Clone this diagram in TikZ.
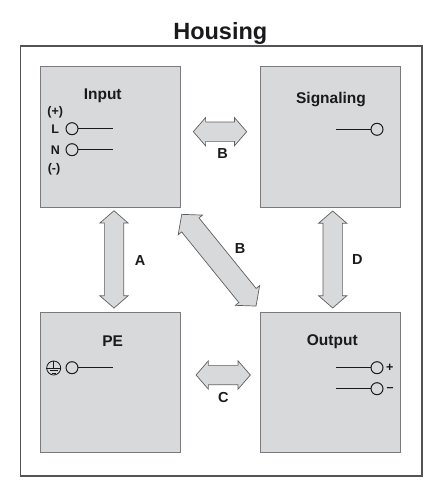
\documentclass[tikz,border=0pt]{standalone}
\usepackage{fontspec}
\setmainfont{Liberation Sans}
\usepackage{xcolor}
\usetikzlibrary{shapes.arrows}
\definecolor{boxfill}{RGB}{216,217,219}
\definecolor{boxline}{RGB}{122,122,124}
\definecolor{ink}{RGB}{26,26,28}

\tikzset{
  unitbox/.style={draw=boxline, fill=boxfill, line width=1pt, minimum size=140pt, inner sep=0pt, outer sep=0pt},
  dblarrow/.style={double arrow, draw=ink!70, fill=boxfill, line width=.7pt, inner xsep=0pt, inner ysep=9.3pt, outer sep=0pt,
    double arrow head extend=4.5pt, double arrow tip angle=98},
  terminal/.style={circle, draw=ink, line width=1pt, minimum size=12pt, inner sep=0pt, outer sep=0pt},
  title/.style={font=\fontsize{15.5}{18}\selectfont\bfseries, text=ink, anchor=base, inner sep=0pt},
  tag/.style={font=\fontsize{12.5}{15}\selectfont\bfseries, text=ink, inner sep=0pt},
  letter/.style={font=\fontsize{14.5}{17}\selectfont\bfseries, text=ink, inner sep=0pt},
  wire/.style={draw=ink, line width=1pt}
}

\begin{document}
\begin{tikzpicture}[x=1pt, y=-1pt]
  \useasboundingbox (0,0) rectangle (443,500);

  \node[draw=ink!75, line width=1.2pt, minimum width=401.5pt, minimum height=430pt, inner sep=0pt] (Housing) at (221.3,261) {};
  \node[font=\fontsize{23.5}{26}\selectfont\bfseries, text=ink, anchor=base, inner sep=0pt] (HousingTitle) at (220.3,39.3) {Housing};

  \node[unitbox] (Input) at (110,137) {};
  \node[unitbox] (Signaling) at (330,137) {};
  \node[unitbox] (PE) at (110.7,382.2) {};
  \node[unitbox] (Output) at (330,382.2) {};

  \node[title] (InputTitle) at (102.7,100) {Input};
  \node[title] (SignalingTitle) at (331,103.5) {Signaling};
  \node[title] (PETitle) at (112.7,346.8) {PE};
  \node[title] (OutputTitle) at (332.3,345.5) {Output};

  \node[dblarrow, minimum height=53.4pt, minimum width=26.7pt] (ArrowTop) at (220,131.7) {};
  \node[dblarrow, minimum height=54.3pt, minimum width=26.7pt] (ArrowBottom) at (223.2,375) {};
  \node[dblarrow, rotate=90, minimum height=97.3pt, minimum width=28pt] (ArrowLeft) at (114,259.4) {};
  \node[dblarrow, rotate=90, minimum height=97pt, minimum width=28pt] (ArrowRight) at (332.7,259.5) {};
  \node[dblarrow, rotate=-51, inner ysep=10.8pt, minimum height=118pt, minimum width=30pt] (ArrowDiag) at (218.9,260.2) {};

  \node[letter] (LabelA) at (140,260.7) {A};
  \node[letter] (LabelBtop) at (222.7,153.7) {B};
  \node[letter] (LabelBdiag) at (240,248.3) {B};
  \node[letter] (LabelC) at (223.3,397.7) {C};
  \node[letter] (LabelD) at (357.3,260) {D};

  \node[tag] (Plus) at (55.3,112.3) {(+)};
  \node[tag] (LabelL) at (55.3,128.7) {L};
  \node[tag] (LabelN) at (55.3,150) {N};
  \node[tag] (Minus) at (54,169) {(-)};

  \node[terminal] (TermL) at (72,128.7) {};
  \node[terminal] (TermN) at (72,149.7) {};
  \node[terminal] (TermPE) at (72,367.7) {};
  \node[terminal] (TermSig) at (377,129.3) {};
  \node[terminal] (TermPlus) at (377,367.7) {};
  \node[terminal] (TermMinus) at (377,388.7) {};

  \coordinate (EndL) at (112.7,128.7);
  \coordinate (EndN) at (112.7,149.7);
  \coordinate (EndPE) at (113,367.7);
  \coordinate (EndSig) at (336,129.3);
  \coordinate (EndPlus) at (336.3,367.7);
  \coordinate (EndMinus) at (336.3,388.7);

  \draw[wire] (TermL) -- (EndL);
  \draw[wire] (TermN) -- (EndN);
  \draw[wire] (TermPE) -- (EndPE);
  \draw[wire] (TermSig) -- (EndSig);
  \draw[wire] (TermPlus) -- (EndPlus);
  \draw[wire] (TermMinus) -- (EndMinus);

  \node[tag] (SignPlus) at (389.7,368) {+};
  \node[tag] (SignMinus) at (390,389.5) {\textendash};

  \node[circle, draw=ink, line width=.8pt, minimum size=14pt, inner sep=0pt] (Earth) at (53.7,368) {};
  \draw[ink, line width=.8pt] (Earth.north) -- (Earth.center);
  \draw[ink, line width=.8pt] (Earth.west) -- (Earth.east);
  \draw[ink, line width=.8pt] ([xshift=-4.2pt,yshift=-2.6pt]Earth.center) -- ([xshift=4.2pt,yshift=-2.6pt]Earth.center);
  \draw[ink, line width=.8pt] ([xshift=-2.2pt,yshift=-5pt]Earth.center) -- ([xshift=2.2pt,yshift=-5pt]Earth.center);
\end{tikzpicture}
\end{document}
